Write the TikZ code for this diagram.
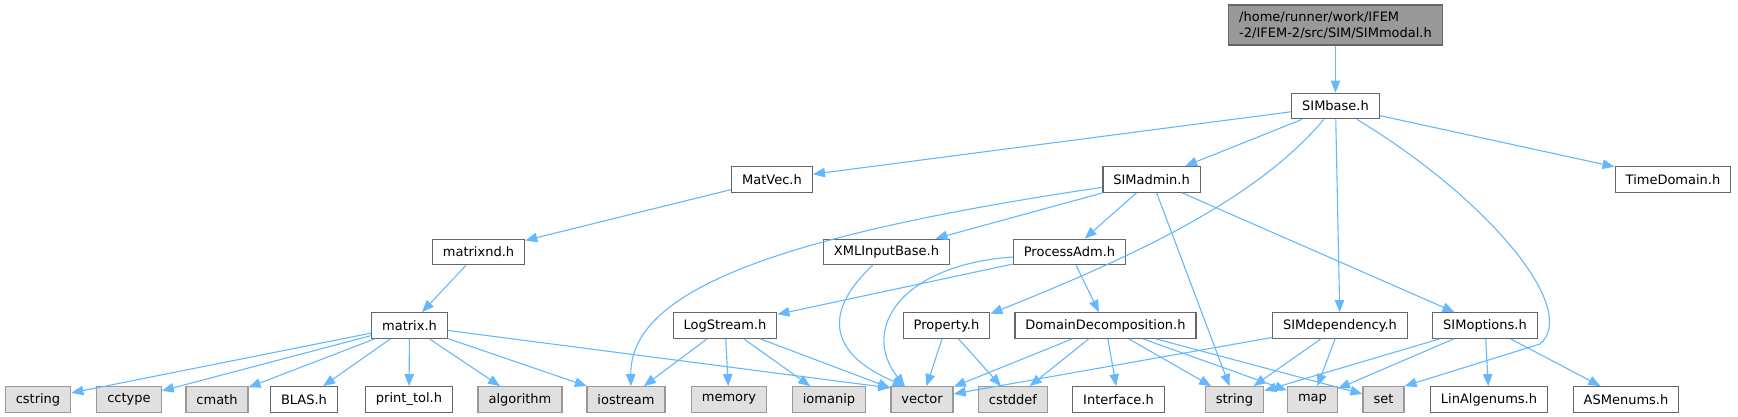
\documentclass[tikz,border=0pt]{standalone}
\usepackage{fontspec}
\setmainfont{DejaVu Sans}
\usetikzlibrary{arrows.meta}

\definecolor{edgeblue}{HTML}{63B8FF}
\definecolor{boxline}{HTML}{666666}
\definecolor{sysline}{HTML}{999999}
\definecolor{sysfill}{HTML}{E0E0E0}
\definecolor{rootfill}{HTML}{999999}

\tikzset{
  hdr/.style={draw=boxline,fill=white,line width=1.3pt,minimum height=25.5pt,
    inner xsep=10.5pt,inner ysep=0pt,font=\fontsize{13}{16}\selectfont},
  sys/.style={hdr,draw=sysline,fill=sysfill},
  dep/.style={draw=edgeblue,line width=1.1pt,-{Triangle[length=12pt,width=9.5pt]}}
}

\begin{document}
\begin{tikzpicture}[x=1pt,y=-1pt]
\useasboundingbox (0,0) rectangle (1738,417);

% Root
\node[hdr,fill=rootfill,align=left,minimum height=40pt] (SIMmodal) at (1335.5,25)
  {/home/runner/work/IFEM\\-2/IFEM-2/src/SIM/SIMmodal.h};

% Headers
\node[hdr] (SIMbase) at (1335.5,106) {SIMbase.h};
\node[hdr] (MatVec) at (772,179.5) {MatVec.h};
\node[hdr] (SIMadmin) at (1151.6,179.5) {SIMadmin.h};
\node[hdr] (TimeDomain) at (1673,179.5) {TimeDomain.h};
\node[hdr] (matrixnd) at (478.5,252) {matrixnd.h};
\node[hdr] (XMLInputBase) at (886.5,252) {XMLInputBase.h};
\node[hdr] (ProcessAdm) at (1069.5,252) {ProcessAdm.h};
\node[hdr] (matrix) at (409.5,325.5) {matrix.h};
\node[hdr] (LogStream) at (725,325.5) {LogStream.h};
\node[hdr] (Property) at (946.5,325.5) {Property.h};
\node[hdr] (DomainDecomposition) at (1105.5,325.5) {DomainDecomposition.h};
\node[hdr] (SIMdependency) at (1340,325.5) {SIMdependency.h};
\node[hdr] (SIMoptions) at (1485,325.5) {SIMoptions.h};

% Bottom row
\node[sys] (cstring) at (38,399.5) {cstring};
\node[sys] (cctype) at (129,399.5) {cctype};
\node[sys] (cmath) at (217,399.5) {cmath};
\node[hdr] (BLAS) at (304,399.5) {BLAS.h};
\node[hdr] (printtol) at (409,399.5) {print\_tol.h};
\node[sys] (algorithm) at (520,399.5) {algorithm};
\node[sys] (iostream) at (626,399.5) {iostream};
\node[sys] (memory) at (729,399.5) {memory};
\node[sys] (iomanip) at (829,399.5) {iomanip};
\node[sys] (vector) at (922,399.5) {vector};
\node[sys] (cstddef) at (1013,399.5) {cstddef};
\node[hdr] (Interface) at (1118.5,399.5) {Interface.h};
\node[sys] (string) at (1234.5,399.5) {string};
\node[sys] (map) at (1312.5,399.5) {map};
\node[sys] (set) at (1383.5,399.5) {set};
\node[hdr] (LinAlgenums) at (1489,399.5) {LinAlgenums.h};
\node[hdr] (ASMenums) at (1626,399.5) {ASMenums.h};

% SIMmodal / SIMbase
\draw[dep] (SIMmodal) -- (SIMbase);
\draw[dep] (SIMbase) -- (MatVec);
\draw[dep] (SIMbase) -- (SIMadmin);
\draw[dep] (SIMbase.-131) .. controls (1260,195) and (1150,250) .. (Property.15);
\draw[dep] (SIMbase) -- (SIMdependency);
\draw[dep] (SIMbase.-32) .. controls (1490,200) and (1580,310) .. (1540,344) -- (set.north east);
\draw[dep] (SIMbase) -- (TimeDomain);

% MatVec
\draw[dep] (MatVec) -- (matrixnd);
\draw[dep] (matrixnd) -- (matrix);

% matrix
\foreach \dst in {cstring,cctype,cmath,BLAS,printtol,algorithm,iostream}
  \draw[dep] (matrix) -- (\dst);
\draw[dep] (matrix) -- (vector.160);

% SIMadmin
\draw[dep] (SIMadmin.189) .. controls (780,235) and (630,290) .. (iostream.70);
\draw[dep] (SIMadmin) -- (XMLInputBase);
\draw[dep] (SIMadmin) -- (ProcessAdm);
\draw[dep] (SIMadmin) -- (string);
\draw[dep] (SIMadmin) -- (SIMoptions);

% XMLInputBase / ProcessAdm
\draw[dep] (XMLInputBase.-136) .. controls (830,305) and (820,350) .. (vector.142);
\draw[dep] (ProcessAdm) -- (LogStream);
\draw[dep] (ProcessAdm.185) .. controls (900,265) and (860,330) .. (vector.142);
\draw[dep] (ProcessAdm) -- (DomainDecomposition);

% LogStream
\foreach \dst in {iostream,memory,iomanip}
  \draw[dep] (LogStream) -- (\dst);
\draw[dep] (LogStream) -- (vector.160);

% Property
\draw[dep] (Property) -- (vector);
\draw[dep] (Property) -- (cstddef);

% DomainDecomposition
\foreach \dst in {vector,cstddef,Interface,string,map,set}
  \draw[dep] (DomainDecomposition) -- (\dst);

% SIMdependency
\foreach \dst in {vector,string,map}
  \draw[dep] (SIMdependency) -- (\dst);

% SIMoptions
\foreach \dst in {string,map,LinAlgenums,ASMenums}
  \draw[dep] (SIMoptions) -- (\dst);
\end{tikzpicture}
\end{document}
